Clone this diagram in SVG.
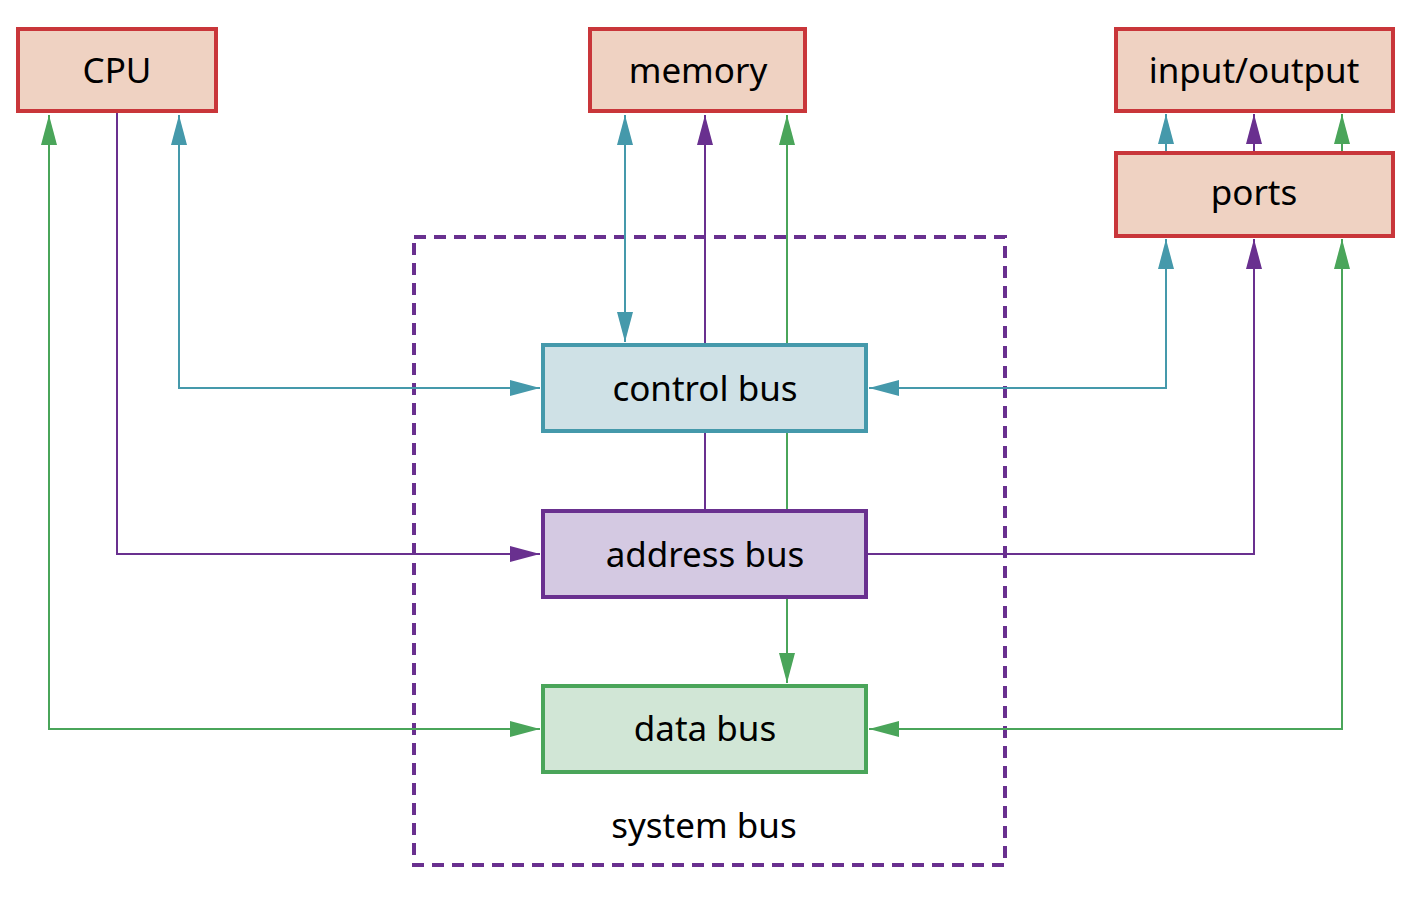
<svg xmlns="http://www.w3.org/2000/svg" width="1416" height="904" viewBox="0 0 1416 904">
<style>
.txt{font-family:"Noto Sans","Open Sans",sans-serif;font-size:35px;fill:#000;text-anchor:middle}
.box{stroke:#c9363a;stroke-width:4;fill:#efd2c2}
.ln{fill:none;stroke-width:2}
.t{stroke:#4599ab}
.p{stroke:#69308f}
.g{stroke:#4aa55a}
</style>
<defs>
<marker id="aT" markerUnits="userSpaceOnUse" markerWidth="30" markerHeight="16" refX="30" refY="8" orient="auto-start-reverse" viewBox="0 0 30 16"><path d="M0,0 L30,8 L0,16 z" fill="#4599ab"/></marker>
<marker id="aP" markerUnits="userSpaceOnUse" markerWidth="30" markerHeight="16" refX="30" refY="8" orient="auto-start-reverse" viewBox="0 0 30 16"><path d="M0,0 L30,8 L0,16 z" fill="#69308f"/></marker>
<marker id="aG" markerUnits="userSpaceOnUse" markerWidth="30" markerHeight="16" refX="30" refY="8" orient="auto-start-reverse" viewBox="0 0 30 16"><path d="M0,0 L30,8 L0,16 z" fill="#4aa55a"/></marker>
</defs>
<rect width="1416" height="904" fill="#fff"/>
<g id="system-bus">
<rect x="414" y="237" width="591" height="628" fill="none" stroke="#69308f" stroke-width="4" stroke-dasharray="12 8"/>
<text class="txt" x="704" y="838">system bus</text>
</g>
<g id="connectors">
<path class="ln g" d="M49,115 V729 H540" marker-start="url(#aG)" marker-end="url(#aG)"/>
<path class="ln p" d="M117,113 V554 H540" marker-end="url(#aP)"/>
<path class="ln t" d="M179,115 V388 H540" marker-start="url(#aT)" marker-end="url(#aT)"/>
<path class="ln t" d="M625,115 V342" marker-start="url(#aT)" marker-end="url(#aT)"/>
<path class="ln p" d="M705,344 V115" marker-end="url(#aP)"/>
<path class="ln p" d="M705,432 V510"/>
<path class="ln g" d="M787,344 V115" marker-end="url(#aG)"/>
<path class="ln g" d="M787,432 V510"/>
<path class="ln g" d="M787,598 V683" marker-end="url(#aG)"/>
<path class="ln t" d="M869,388 H1166 V239" marker-start="url(#aT)" marker-end="url(#aT)"/>
<path class="ln p" d="M867,554 H1254 V239" marker-end="url(#aP)"/>
<path class="ln g" d="M869,729 H1342 V239" marker-start="url(#aG)" marker-end="url(#aG)"/>
<path class="ln t" d="M1166,151 V114" marker-end="url(#aT)"/>
<path class="ln p" d="M1254,151 V114" marker-end="url(#aP)"/>
<path class="ln g" d="M1342,151 V114" marker-end="url(#aG)"/>
</g>
<g id="cpu">
<rect class="box" x="18" y="29" width="198" height="82"/>
<text class="txt" x="117" y="83">CPU</text>
</g>
<g id="memory">
<rect class="box" x="590" y="29" width="215" height="82"/>
<text class="txt" x="698" y="83">memory</text>
</g>
<g id="input-output">
<rect class="box" x="1116" y="29" width="277" height="82"/>
<text class="txt" x="1254" y="83">input/output</text>
</g>
<g id="ports">
<rect class="box" x="1116" y="153" width="277" height="83"/>
<text class="txt" x="1254" y="205">ports</text>
</g>
<g id="control-bus">
<rect x="543" y="345" width="323" height="86" fill="#cfe1e6" stroke="#4599ab" stroke-width="4"/>
<text class="txt" x="705" y="401">control bus</text>
</g>
<g id="address-bus">
<rect x="543" y="511" width="323" height="86" fill="#d4c9e2" stroke="#69308f" stroke-width="4"/>
<text class="txt" x="705" y="567">address bus</text>
</g>
<g id="data-bus">
<rect x="543" y="686" width="323" height="86" fill="#d1e6d6" stroke="#4aa55a" stroke-width="4"/>
<text class="txt" x="705" y="741">data bus</text>
</g>
</svg>
